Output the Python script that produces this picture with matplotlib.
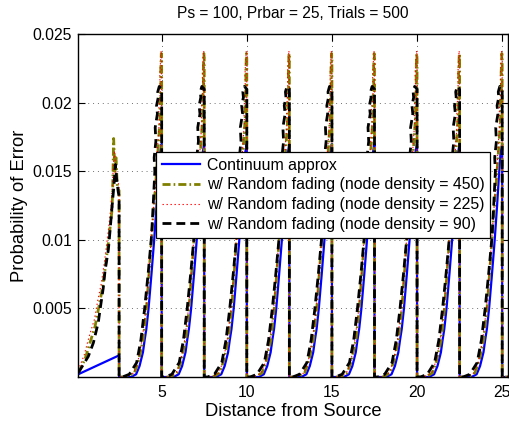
import numpy as np
import matplotlib
matplotlib.use("Agg")
import matplotlib.pyplot as plt

plt.rcParams['font.family'] = ['Liberation Sans', 'DejaVu Sans']

# ---------------- data ----------------
labels = ["Continuum approx",
          "w/ Random fading (node density = 450)",
          "w/ Random fading (node density = 225)",
          "w/ Random fading (node density = 90)"]

period_starts = [2.5, 5.0, 7.5, 10.0, 12.5, 15.0, 17.5, 20.0, 22.5]
tail_x = [25.0, 25.36]
tail_y = [0.0, 0.0]

# first segment (0 .. 2.5)
cont_first_x = [0.10, 2.45, 2.50]
cont_first_y = [0.0002, 0.00155, 0.00155]
d450_first_x = [0.10, 0.50, 0.79, 1.09, 1.28, 1.48, 1.67, 1.87, 2.07, 2.12, 2.18, 2.25, 2.32, 2.40, 2.50]
d450_first_y = [0.0003, 0.0013, 0.0025, 0.0037, 0.0049, 0.0062, 0.0078, 0.0098, 0.0120, 0.0135, 0.0174, 0.0150, 0.0160, 0.0138, 0.0136]
d225_first_x = [0.10, 0.45, 0.75, 1.05, 1.25, 1.45, 1.65, 1.85, 2.03, 2.15, 2.22, 2.32, 2.42, 2.50]
d225_first_y = [0.0005, 0.0016, 0.0030, 0.0042, 0.0056, 0.0068, 0.0085, 0.0105, 0.0125, 0.0150, 0.0165, 0.0148, 0.0142, 0.0140]
d90_first_x = [0.10, 0.69, 0.99, 1.28, 1.38, 1.57, 1.67, 1.87, 1.97, 2.07, 2.20, 2.28, 2.35, 2.45, 2.50]
d90_first_y = [0.0003, 0.0015, 0.0025, 0.0040, 0.0049, 0.0065, 0.0077, 0.0093, 0.0107, 0.0122, 0.0140, 0.0155, 0.0145, 0.0135, 0.0132]

# repeating segment profile (offset within each 2.5-long segment)
cont_u = [0.0, 0.70, 1.00, 1.20, 1.40, 1.50, 1.60, 1.73, 1.90, 2.06, 2.20, 2.30, 2.40, 2.50]
cont_v = [0.0, 0.0, 0.0002, 0.0008, 0.0018, 0.0027, 0.0035, 0.0050, 0.0075, 0.0100, 0.0125, 0.0145, 0.0163, 0.0170]
d450_u = [0.0, 0.50, 0.90, 1.15, 1.41, 1.61, 1.76, 1.90, 2.05, 2.20, 2.30, 2.36, 2.42, 2.40, 2.46, 2.44, 2.48, 2.50]
d450_v = [0.0, 0.0, 0.0003, 0.0012, 0.0027, 0.0050, 0.0076, 0.0100, 0.0125, 0.0150, 0.0168, 0.0180, 0.0192, 0.0200, 0.0212, 0.0222, 0.0236, 0.0232]
d225_u = [0.0, 0.40, 0.85, 1.10, 1.35, 1.58, 1.74, 1.88, 2.03, 2.18, 2.28, 2.36, 2.33, 2.42, 2.39, 2.47, 2.50]
d225_v = [0.0, 0.0, 0.0003, 0.0011, 0.0027, 0.0050, 0.0076, 0.0100, 0.0125, 0.0150, 0.0172, 0.0185, 0.0195, 0.0208, 0.0220, 0.0238, 0.0234]
d90_u = [0.0, 0.20, 0.60, 1.03, 1.28, 1.50, 1.71, 1.83, 1.90, 2.00, 2.10, 2.06, 2.16, 2.12, 2.25, 2.20, 2.30, 2.27, 2.36, 2.50]
d90_v = [0.0, 0.0, 0.0002, 0.00105, 0.0027, 0.0050, 0.0076, 0.0093, 0.0102, 0.0125, 0.0150, 0.0160, 0.0172, 0.0182, 0.0192, 0.0198, 0.0204, 0.0208, 0.0212, 0.0210]

xticks = [5, 10, 15, 20, 25]
yticks = [0.005, 0.01, 0.015, 0.02, 0.025]
ytick_labels = ["0.005", "0.01", "0.015", "0.02", "0.025"]


def build(first_x, first_y, u, v):
    xs = list(first_x)
    ys = list(first_y)
    for s in period_starts:
        xs += [s + a for a in u]
        ys += list(v)
    xs += tail_x
    ys += tail_y
    return np.array(xs), np.array(ys)


series = [
    (build(cont_first_x, cont_first_y, cont_u, cont_v),
     dict(color='#0000ff', lw=1.6, linestyle='-')),
    (build(d450_first_x, d450_first_y, d450_u, d450_v),
     dict(color='#808000', lw=2.0, linestyle=(0, (2.9, 1.1, 0.6, 1.1)))),
    (build(d225_first_x, d225_first_y, d225_u, d225_v),
     dict(color='#ff0000', lw=0.8, linestyle=(0, (1.2, 2.4)))),
    (build(d90_first_x, d90_first_y, d90_u, d90_v),
     dict(color='#000000', lw=2.0, linestyle=(0, (3.2, 1.8)))),
]

# ---------------- figure ----------------
fig = plt.figure(figsize=(5.10, 4.22), dpi=100)
ax = fig.add_axes([0.1524, 0.1066, 0.8443, 0.8121])

for (xy, style), lab in zip(series, labels):
    ax.plot(xy[0], xy[1], label=lab, **style)

ax.set_xlim(0.07, 25.36)
ax.set_ylim(0, 0.025)
ax.set_xticks(xticks)
ax.set_yticks(yticks)
ax.set_yticklabels(ytick_labels)
ax.tick_params(direction='in', top=True, right=True, length=5, width=0.8,
               labelsize=11.3)
ax.tick_params(axis='x', pad=6)
ax.tick_params(axis='y', pad=4)
ax.grid(True, linestyle=(0, (1, 4)), color='#707070', lw=0.7)
for sp in ax.spines.values():
    sp.set_linewidth(1.0)

ax.set_title("Ps = 100, Prbar = 25, Trials = 500", fontsize=11.2, pad=11.5)
ax.set_xlabel("Distance from Source", fontsize=13.2, labelpad=2)
ax.set_ylabel("Probability of Error", fontsize=13.2, labelpad=3)

leg = ax.legend(loc='upper left', bbox_to_anchor=(0.182, 0.656), fontsize=11.4,
                fancybox=False, framealpha=1, edgecolor='black',
                borderpad=0.35, labelspacing=0.3, handlelength=2.45,
                handletextpad=0.4, borderaxespad=0)
leg.get_frame().set_linewidth(0.9)

fig.savefig("out.png", dpi=100)
